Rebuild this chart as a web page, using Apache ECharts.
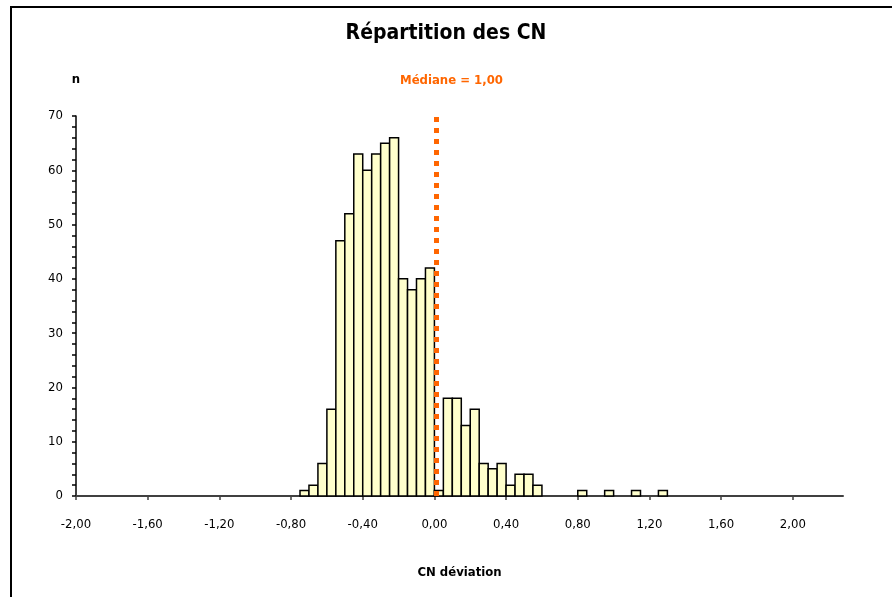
<!DOCTYPE html>
<html>
<head>
<meta charset="utf-8">
<script src="https://cdn.jsdelivr.net/npm/echarts@6/dist/echarts.min.js"></script>
<style>
  html, body { margin: 0; padding: 0; background: #fff; }
  #chart { width: 892px; height: 597px; }
</style>
</head>
<body>
<div id="chart"></div>
<script>
// lower edge of each 0.05 bin, and count of CN in it
var binWidth = 0.05;
var binStarts = [-0.75, -0.70, -0.65, -0.60, -0.55, -0.50, -0.45, -0.40, -0.35, -0.30,
                 -0.25, -0.20, -0.15, -0.10, -0.05, 0.00, 0.05, 0.10, 0.15, 0.20,
                 0.25, 0.30, 0.35, 0.40, 0.45, 0.50, 0.55, 0.80, 0.95, 1.10, 1.25];
var counts = [1, 2, 6, 16, 47, 52, 63, 60, 63, 65,
              66, 40, 38, 40, 42, 1, 18, 18, 13, 16,
              6, 5, 6, 2, 4, 4, 2, 1, 1, 1, 1];
var xTicks = [-2.0, -1.6, -1.2, -0.8, -0.4, 0.0, 0.4, 0.8, 1.2, 1.6, 2.0];
var medianX = 0.01;
var medianLabel = 'Médiane = 1,00';

var font = '"DejaVu Sans Condensed", "DejaVu Sans", sans-serif';
var chart = echarts.init(document.getElementById('chart'));

var histData = binStarts.map(function (s, i) { return [s, counts[i]]; });

var option = {
  animation: false,
  backgroundColor: '#fff',
  textStyle: { fontFamily: font },
  title: {
    text: 'Répartition des CN',
    left: 'center',
    top: 18,
    textStyle: { fontSize: 21, fontWeight: 'bold', color: '#000', fontFamily: font }
  },
  graphic: [
    {
      type: 'rect',
      shape: { x: 11, y: 7, width: 900, height: 620 },
      style: { fill: null, stroke: '#000', lineWidth: 2 },
      silent: true
    },
    {
      type: 'text',
      left: 400,
      top: 74,
      style: { text: medianLabel, fill: '#FF6600', font: 'bold 13px ' + font }
    }
  ],
  grid: { left: 76, right: 49, top: 116, bottom: 101 },
  xAxis: {
    type: 'value',
    min: -2,
    max: 2.28,
    name: 'CN déviation',
    nameLocation: 'middle',
    nameGap: 70,
    nameTextStyle: { fontSize: 13, fontWeight: 'bold', color: '#000' },
    splitLine: { show: false },
    axisLine: { show: true, onZero: false, lineStyle: { color: '#404040', width: 2 } },
    axisTick: { show: true, customValues: xTicks, length: 4, lineStyle: { color: '#404040', width: 1.5 } },
    axisLabel: {
      customValues: xTicks,
      margin: 22,
      fontSize: 13,
      color: '#000',
      formatter: function (v) { return v.toFixed(2).replace('.', ','); }
    }
  },
  yAxis: {
    type: 'value',
    min: 0,
    max: 70,
    interval: 10,
    name: 'n',
    nameLocation: 'end',
    nameGap: 30,
    nameTextStyle: { fontSize: 13, fontWeight: 'bold', color: '#000', align: 'center' },
    splitLine: { show: false },
    axisLine: { show: true, onZero: false, lineStyle: { color: '#000', width: 1.5 } },
    axisTick: { show: true, length: 4, lineStyle: { color: '#000', width: 1.5 } },
    minorTick: { show: true, splitNumber: 5, length: 4, lineStyle: { color: '#000', width: 1.5 } },
    axisLabel: { margin: 13, fontSize: 13, color: '#000' }
  },
  series: [{
    type: 'custom',
    data: histData,
    renderItem: function (params, api) {
      var p0 = api.coord([api.value(0), api.value(1)]);
      var p1 = api.coord([api.value(0) + binWidth, 0]);
      return {
        type: 'rect',
        shape: { x: p0[0], y: p0[1], width: p1[0] - p0[0], height: p1[1] - p0[1] },
        style: { fill: '#FFFFCC', stroke: '#000', lineWidth: 1.5 }
      };
    },
    markLine: {
      silent: true,
      symbol: 'none',
      z: 10,
      label: { show: false },
      lineStyle: { color: '#FF6600', width: 5, type: [5, 6], cap: 'butt' },
      data: [{ xAxis: medianX }]
    }
  }]
};

chart.setOption(option);
</script>
</body>
</html>
